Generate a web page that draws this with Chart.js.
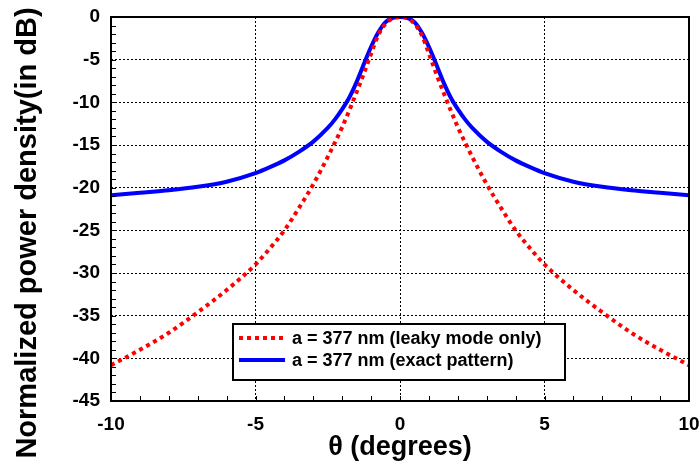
<!DOCTYPE html>
<html>
<head>
<meta charset="utf-8">
<script src="https://cdn.jsdelivr.net/npm/chart.js@4.4.0/dist/chart.umd.min.js"></script>
<style>
  html, body { margin: 0; padding: 0; background: #fff; }
  #wrap { width: 699px; height: 466px; }
</style>
</head>
<body>
<div id="wrap"><canvas id="chart"></canvas></div>
<script>
// angle in degrees
const theta = [-10, -9, -8, -7, -6, -5, -4.5, -4, -3.5, -3, -2.5, -2.25, -2, -1.75, -1.5, -1.25, -1, -0.75, -0.5, -0.25, 0,
               0.25, 0.5, 0.75, 1, 1.25, 1.5, 1.75, 2, 2.25, 2.5, 3, 3.5, 4, 4.5, 5, 6, 7, 8, 9, 10];
// normalized power density, dB
const leakyOnly = [-40.8, -39.0, -37.0, -34.6, -32.0, -29.0, -27.1, -25.0, -22.4, -19.6, -16.4, -14.7, -12.9, -10.9, -8.8, -6.6, -4.3, -2.1, -0.8, -0.15, 0,
                   -0.15, -0.8, -2.1, -4.3, -6.6, -8.8, -10.9, -12.9, -14.7, -16.4, -19.6, -22.4, -25.0, -27.1, -29.0, -32.0, -34.6, -37.0, -39.0, -40.8];
const exactPattern = [-20.9, -20.6, -20.3, -19.9, -19.3, -18.3, -17.6, -16.8, -15.8, -14.6, -13.0, -12.0, -10.8, -9.4, -7.6, -5.5, -3.5, -1.8, -0.6, -0.1, 0,
                      -0.1, -0.6, -1.8, -3.5, -5.5, -7.6, -9.4, -10.8, -12.0, -13.0, -14.6, -15.8, -16.8, -17.6, -18.3, -19.3, -19.9, -20.3, -20.6, -20.9];
const seriesLabels = ['a = 377 nm (leaky mode only)', 'a = 377 nm (exact pattern)'];
const xTickValues = [-10, -5, 0, 5, 10];
const yTickValues = [-45, -40, -35, -30, -25, -20, -15, -10, -5, 0];
const yTitle = 'Normalized power density(in dB)';

const FONT = "'Liberation Sans', Arial, sans-serif";

function toPoints(ys) {
    return theta.map((t, i) => ({ x: t, y: ys[i] }));
}

// frame, inside minor ticks, y title and the boxed legend
const framePlugin = {
    id: 'frame',
    afterDatasetsDraw(chart) {
        const ctx = chart.ctx;
        const a = chart.chartArea;
        const xs = chart.scales.x, ys = chart.scales.y;
        ctx.save();
        ctx.strokeStyle = '#000';
        ctx.lineWidth = 1;
        ctx.beginPath();
        for (let v = xs.min + 1; v < xs.max; v++) {
            const px = Math.round(xs.getPixelForValue(v)) + 0.5;
            ctx.moveTo(px, a.bottom);
            ctx.lineTo(px, a.bottom - 5);
        }
        for (let v = ys.min + 1; v < ys.max; v++) {
            const py = Math.round(ys.getPixelForValue(v)) + 0.5;
            ctx.moveTo(a.left, py);
            ctx.lineTo(a.left + 5, py);
        }
        ctx.stroke();
        ctx.lineWidth = 2;
        ctx.strokeRect(a.left, a.top, a.right - a.left, a.bottom - a.top);
        ctx.restore();
    },
    afterDraw(chart) {
        const ctx = chart.ctx;
        const a = chart.chartArea;

        // y axis title, centred on the canvas like the original
        ctx.save();
        ctx.translate(28, chart.height / 2);
        ctx.rotate(-Math.PI / 2);
        ctx.font = 'bold 29px ' + FONT;
        ctx.fillStyle = '#000';
        ctx.textAlign = 'center';
        ctx.textBaseline = 'middle';
        ctx.fillText(yTitle, 0, 0);
        ctx.restore();

        const bx = a.left + 122, by = a.top + 307, bw = 332, bh = 56;
        ctx.save();
        ctx.fillStyle = '#fff';
        ctx.fillRect(bx, by, bw, bh);
        ctx.strokeStyle = '#000';
        ctx.lineWidth = 2;
        ctx.strokeRect(bx, by, bw, bh);
        ctx.font = 'bold 18px ' + FONT;
        ctx.textBaseline = 'middle';
        ctx.fillStyle = '#000';
        chart.data.datasets.forEach((ds, i) => {
            const y = by + 14 + i * 22;
            ctx.beginPath();
            ctx.strokeStyle = ds.borderColor;
            ctx.lineWidth = ds.borderWidth;
            ctx.setLineDash(ds.borderDash || []);
            ctx.moveTo(bx + 6, y);
            ctx.lineTo(bx + 52, y);
            ctx.stroke();
            ctx.setLineDash([]);
            ctx.fillText(ds.label, bx + 59, y + 1);
        });
        ctx.restore();
    }
};

const ctx = document.getElementById('chart').getContext('2d');
new Chart(ctx, {
    type: 'line',
    data: {
        datasets: [{
            label: seriesLabels[0],
            data: toPoints(leakyOnly),
            borderColor: '#ff0000',
            borderWidth: 4,
            borderDash: [4, 4],
            pointRadius: 0,
            cubicInterpolationMode: 'monotone',
            fill: false
        }, {
            label: seriesLabels[1],
            data: toPoints(exactPattern),
            borderColor: '#0000ff',
            borderWidth: 4,
            pointRadius: 0,
            cubicInterpolationMode: 'monotone',
            fill: false
        }]
    },
    plugins: [framePlugin],
    options: {
        responsive: true,
        maintainAspectRatio: false,
        animation: false,
        layout: {
            padding: { top: 17, right: 10, left: 0, bottom: 0 }
        },
        plugins: {
            legend: { display: false },
            tooltip: { enabled: false }
        },
        scales: {
            x: {
                type: 'linear',
                min: -10,
                max: 10,
                afterBuildTicks: scale => { scale.ticks = xTickValues.map(v => ({ value: v })); },
                afterFit: scale => {
                    scale.height = 65;
                    scale.paddingLeft = 0;
                    scale.paddingRight = 0;
                },
                grid: { color: '#000', lineWidth: 1, drawTicks: false },
                border: { display: false, dash: [2, 2] },
                ticks: {
                    padding: 12,
                    color: '#000',
                    maxRotation: 0,
                    font: { family: FONT, size: 19, weight: 'bold' }
                },
                title: {
                    display: true,
                    text: 'θ (degrees)',
                    color: '#000',
                    font: { family: FONT, size: 27, weight: 'bold' },
                    padding: { top: 0, bottom: 2 }
                }
            },
            y: {
                min: -45,
                max: 0,
                afterBuildTicks: scale => { scale.ticks = yTickValues.map(v => ({ value: v })); },
                afterFit: scale => {
                    scale.width = 111;
                    scale.paddingTop = 0;
                    scale.paddingBottom = 0;
                },
                grid: { color: '#000', lineWidth: 1, drawTicks: false },
                border: { display: false, dash: [2, 2] },
                ticks: {
                    padding: 11,
                    color: '#000',
                    font: { family: FONT, size: 19, weight: 'bold' }
                }
            }
        }
    }
});
</script>
</body>
</html>
